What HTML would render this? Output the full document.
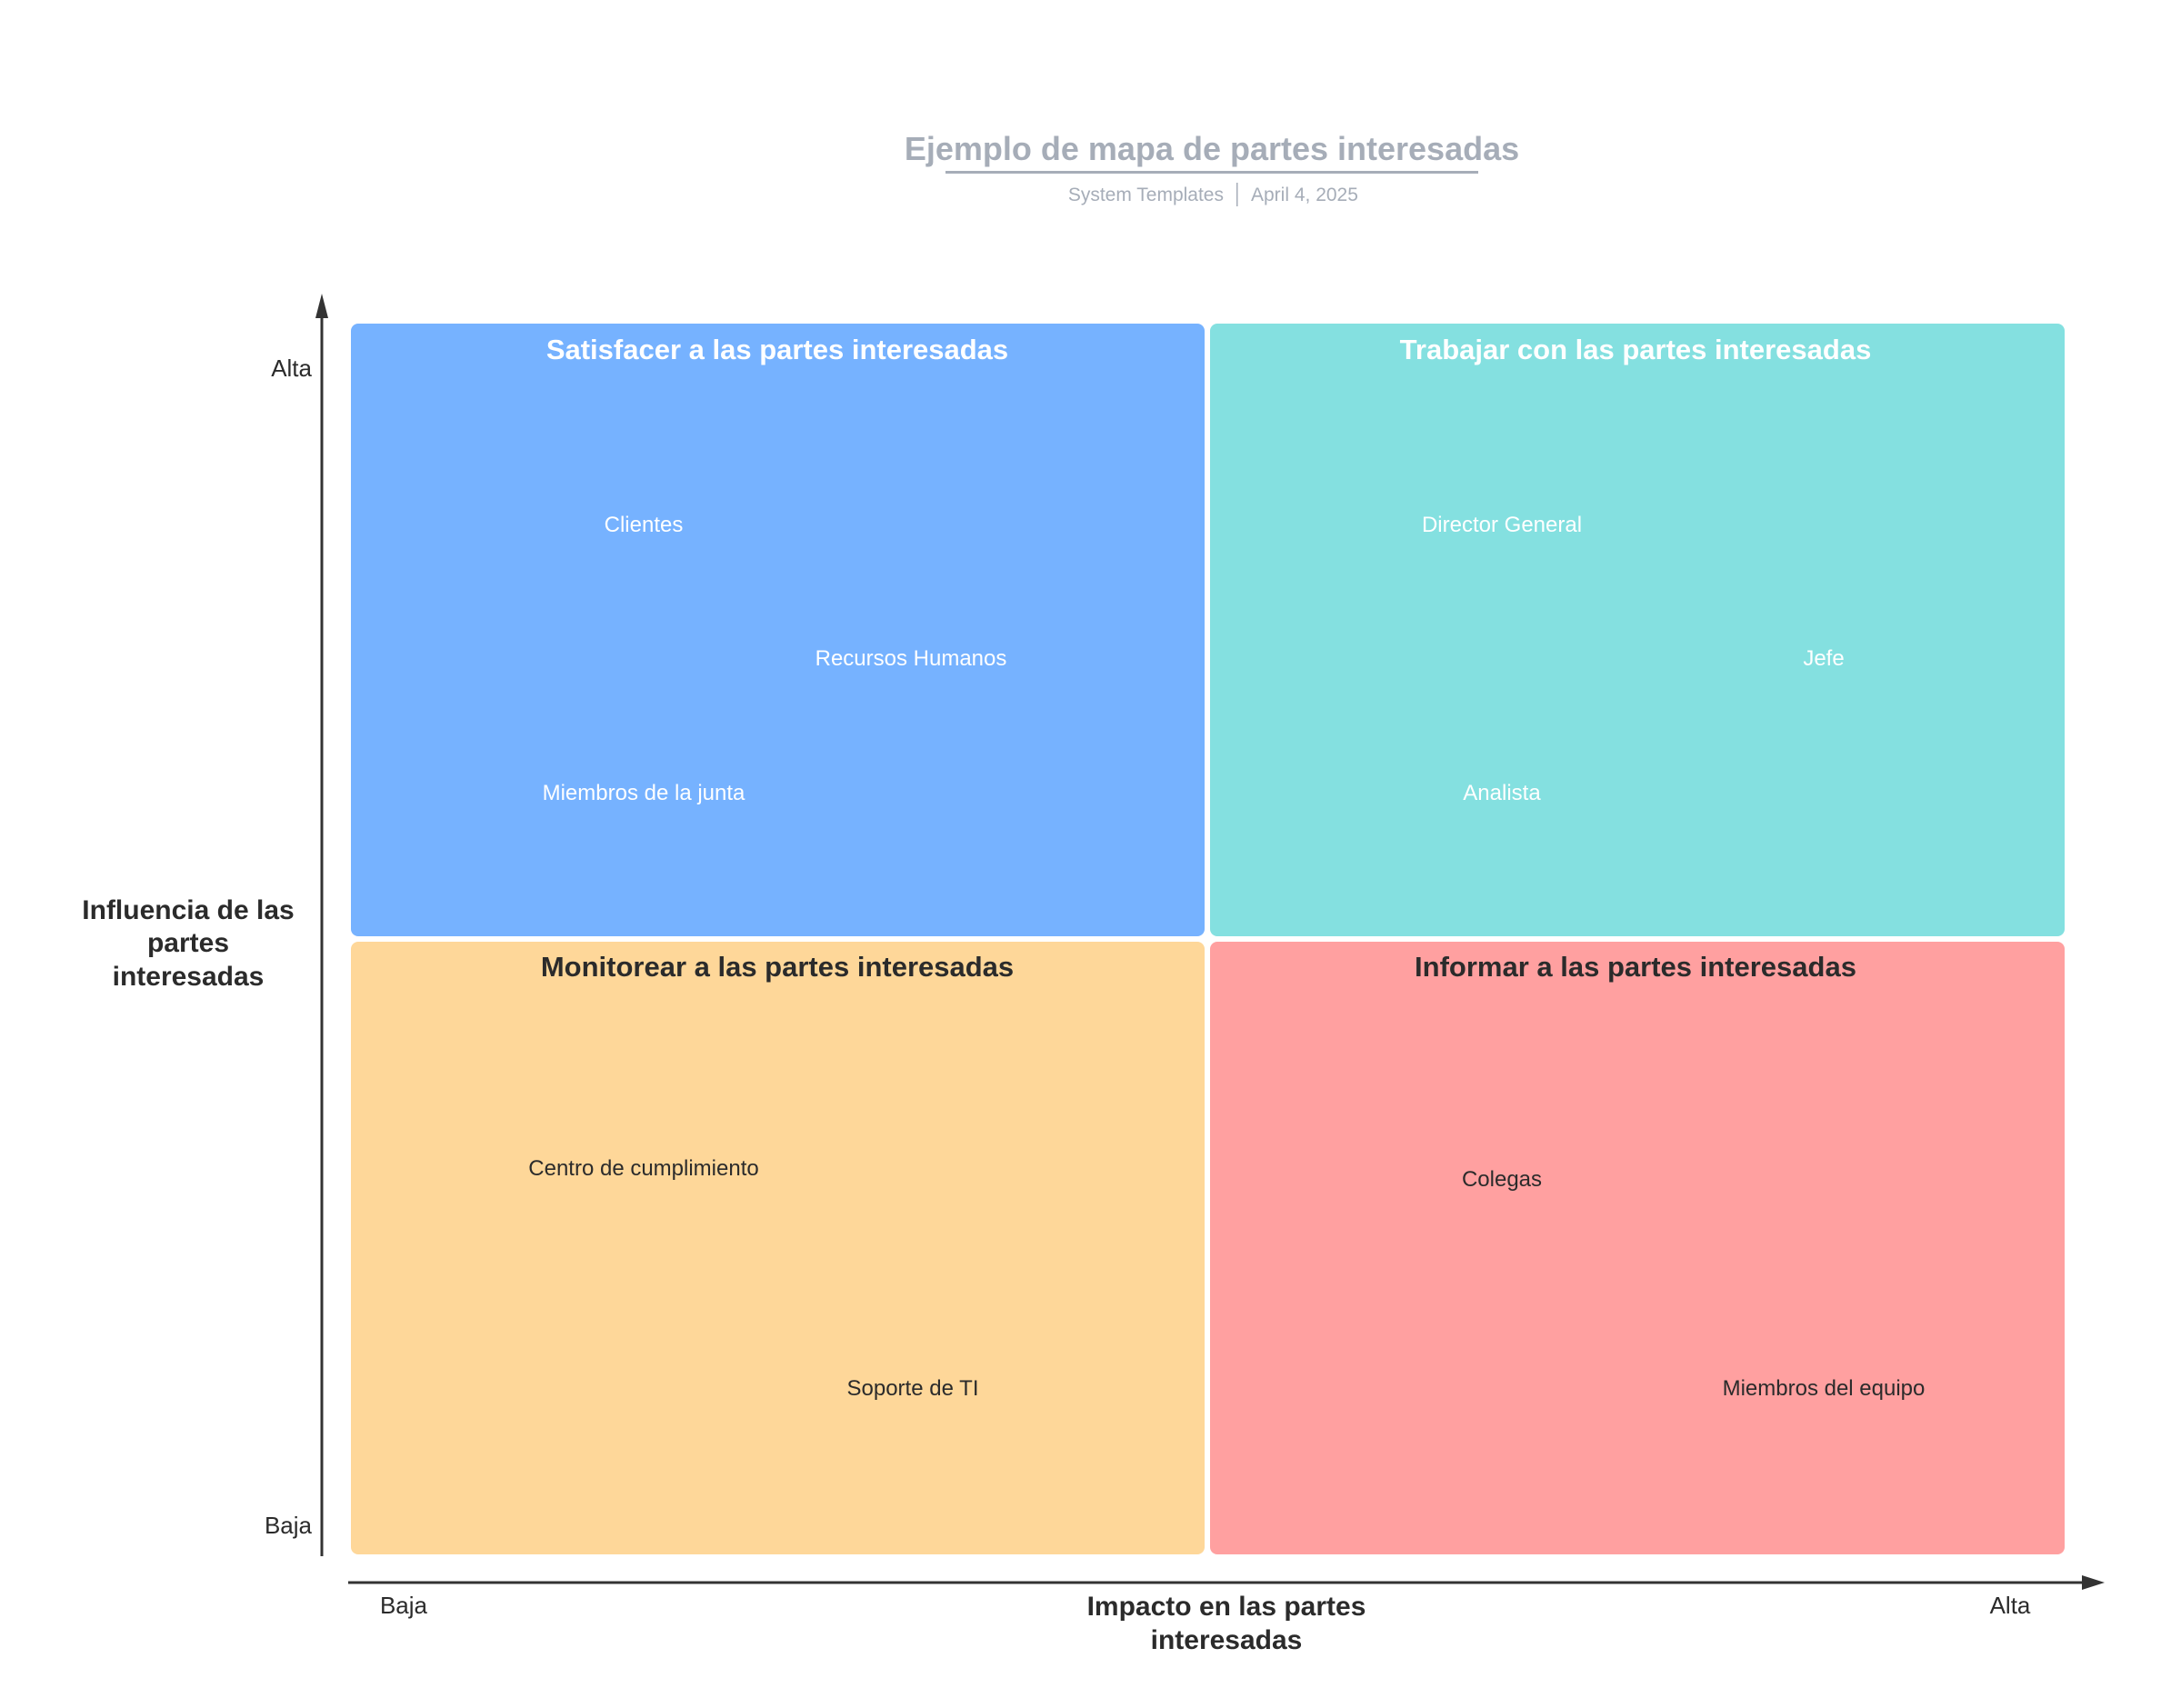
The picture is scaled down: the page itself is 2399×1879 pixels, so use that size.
<!DOCTYPE html>
<html><head><meta charset="utf-8"><style>html,body{margin:0;padding:0;background:#fff}</style></head>
<body>
<svg width="2399" height="1874" viewBox="0 0 2399 1874" xmlns="http://www.w3.org/2000/svg" font-family="Liberation Sans, sans-serif">
<rect width="2399" height="1874" fill="#fff"/>
<text x="1333" y="176" text-anchor="middle" font-size="36" font-weight="bold" fill="#a6adb8">Ejemplo de mapa de partes interesadas</text>
<rect x="1040" y="188" width="586" height="3" fill="#a6adb8"/>
<text x="1346" y="221" text-anchor="end" font-size="21" fill="#a6adb8">System Templates</text>
<rect x="1360" y="201" width="1.5" height="26" fill="#a6adb8"/>
<text x="1376" y="221" font-size="21" fill="#a6adb8">April 4, 2025</text>

<rect x="386" y="356" width="939" height="674" rx="8" fill="#76b2ff"/>
<rect x="1331" y="356" width="940" height="674" rx="8" fill="#84e0e0"/>
<rect x="386" y="1036" width="939" height="674" rx="8" fill="#fed799"/>
<rect x="1331" y="1036" width="940" height="674" rx="8" fill="#ffa0a0"/>

<g font-size="31" font-weight="bold" text-anchor="middle">
<text x="855" y="395" fill="#fff">Satisfacer a las partes interesadas</text>
<text x="1799" y="395" fill="#fff">Trabajar con las partes interesadas</text>
<text x="855" y="1074" fill="#2b2b2b">Monitorear a las partes interesadas</text>
<text x="1799" y="1074" fill="#2b2b2b">Informar a las partes interesadas</text>
</g>
<g font-size="24" text-anchor="middle">
<text x="708" y="585" fill="#fff">Clientes</text>
<text x="1002" y="732" fill="#fff">Recursos Humanos</text>
<text x="708" y="880" fill="#fff">Miembros de la junta</text>
<text x="1652" y="585" fill="#fff">Director General</text>
<text x="2006" y="732" fill="#fff">Jefe</text>
<text x="1652" y="880" fill="#fff">Analista</text>
<text x="708" y="1293" fill="#2b2b2b">Centro de cumplimiento</text>
<text x="1004" y="1535" fill="#2b2b2b">Soporte de TI</text>
<text x="1652" y="1305" fill="#2b2b2b">Colegas</text>
<text x="2006" y="1535" fill="#2b2b2b">Miembros del equipo</text>
</g>

<rect x="352.5" y="345" width="3" height="1367" fill="#333"/>
<polygon points="354,323 347,350 361,350" fill="#333"/>
<rect x="383" y="1739.5" width="1910" height="3" fill="#333"/>
<polygon points="2315,1741 2290,1733 2290,1749" fill="#333"/>

<g font-size="26" fill="#2b2b2b">
<text x="343" y="414" text-anchor="end">Alta</text>
<text x="343" y="1687" text-anchor="end">Baja</text>
<text x="444" y="1775" text-anchor="middle">Baja</text>
<text x="2211" y="1775" text-anchor="middle">Alta</text>
</g>
<g font-size="30" font-weight="bold" fill="#2b2b2b" text-anchor="middle">
<text x="1349" y="1777">Impacto en las partes</text>
<text x="1349" y="1814">interesadas</text>
<text x="207" y="1011">Influencia de las</text>
<text x="207" y="1047">partes</text>
<text x="207" y="1084">interesadas</text>
</g>
</svg>
</body></html>
